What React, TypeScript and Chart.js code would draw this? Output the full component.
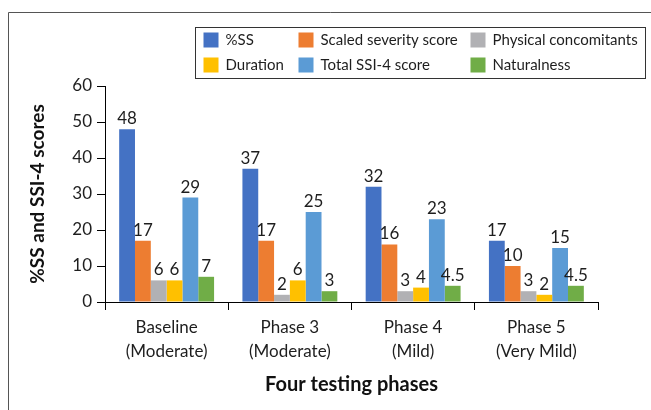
import React, { useEffect, useRef } from "react";
import { Chart, registerables } from "chart.js";

Chart.register(...registerables);

const categories: string[][] = [
  ["Baseline", "(Moderate)"],
  ["Phase 3", "(Moderate)"],
  ["Phase 4", "(Mild)"],
  ["Phase 5", "(Very Mild)"],
];
const seriesNames = [
  "%SS",
  "Scaled severity score",
  "Physical concomitants",
  "Duration",
  "Total SSI-4 score",
  "Naturalness",
];
const pctSS = [48, 37, 32, 17];
const scaledSeverity = [17, 17, 16, 10];
const physical = [6, 2, 3, 3];
const duration = [6, 6, 4, 2];
const totalSSI4 = [29, 25, 23, 15];
const naturalness = [7, 3, 4.5, 4.5];
const yTicks = [0, 10, 20, 30, 40, 50, 60];

const colors = ["#4472C4", "#ED7D31", "#B1B1B4", "#FFC000", "#5B9BD5", "#70AD47"];
const FONT = "Lato, 'Open Sans', sans-serif";
const TEXT = "#1e1e1e";

const frameAndLegend = {
  id: "frameAndLegend",
  beforeDraw(chart: any) {
    const ctx = chart.ctx;
    ctx.save();
    ctx.fillStyle = "#fff";
    ctx.fillRect(0, 0, chart.width, chart.height);
    ctx.strokeStyle = "#555";
    ctx.lineWidth = 1;
    ctx.beginPath();
    ctx.moveTo(8.5, chart.height + 2);
    ctx.lineTo(8.5, 12.5);
    ctx.lineTo(chart.width + 2, 12.5);
    ctx.stroke();
    ctx.restore();
  },
  afterDraw(chart: any) {
    const ctx = chart.ctx;
    const box = { x: 195.5, y: 27.5, w: 450, h: 51 };
    const cols = [8, 103, 275];
    const rows = [12, 37];
    ctx.save();
    ctx.strokeStyle = "#333";
    ctx.lineWidth = 1;
    ctx.strokeRect(box.x, box.y, box.w, box.h);
    ctx.font = `15px ${FONT}`;
    ctx.textBaseline = "middle";
    chart.data.datasets.forEach((ds: any, i: number) => {
      const cx = box.x + cols[i % 3];
      const cy = box.y + rows[Math.floor(i / 3)];
      ctx.fillStyle = ds.backgroundColor;
      ctx.fillRect(cx, cy - 7, 15, 15);
      ctx.fillStyle = TEXT;
      ctx.fillText(ds.label, cx + 22, cy + 1);
    });
    ctx.restore();
  },
};

const valueLabels = {
  id: "valueLabels",
  afterDatasetsDraw(chart: any) {
    const ctx = chart.ctx;
    ctx.save();
    ctx.font = `17px ${FONT}`;
    ctx.fillStyle = TEXT;
    ctx.textAlign = "center";
    ctx.textBaseline = "bottom";
    chart.data.datasets.forEach((ds: any, i: number) => {
      const meta = chart.getDatasetMeta(i);
      meta.data.forEach((bar: any, j: number) => {
        ctx.fillText(String(ds.data[j]), bar.x, bar.y - 2);
      });
    });
    ctx.restore();
  },
};

export default function App() {
  const ref = useRef<HTMLCanvasElement>(null);
  useEffect(() => {
    if (!ref.current) return;
    const series = [pctSS, scaledSeverity, physical, duration, totalSSI4, naturalness];
    const chart = new Chart(ref.current, {
      type: "bar",
      data: {
        labels: categories,
        datasets: series.map((d, i) => ({
          label: seriesNames[i],
          data: d,
          backgroundColor: colors[i],
          borderWidth: 0,
          categoryPercentage: 0.77,
          barPercentage: 1,
        })),
      },
      options: {
        animation: false,
        responsive: false,
        maintainAspectRatio: false,
        layout: { padding: { left: 26, top: 86, right: 53, bottom: 13 } },
        plugins: { legend: { display: false }, tooltip: { enabled: false } },
        scales: {
          x: {
            grid: { display: true, drawOnChartArea: false, color: "#000", tickLength: 8, offset: true },
            border: { color: "#000", width: 1 },
            ticks: { color: TEXT, font: { family: FONT, size: 17, lineHeight: 1.42 }, padding: 5, maxRotation: 0 },
            title: { display: true, text: "Four testing phases", color: "#111", font: { family: FONT, size: 20, weight: "bold" }, padding: { top: 0, bottom: 0 } },
            afterFit: (s: any) => { s.height = 95; },
          },
          y: {
            min: 0,
            max: 60,
            afterBuildTicks: (s: any) => { s.ticks = yTicks.map((v) => ({ value: v })); },
            grid: { display: true, drawOnChartArea: false, color: "#000", tickLength: 8, tickWidth: 1 },
            border: { color: "#000", width: 1 },
            ticks: { color: TEXT, font: { family: FONT, size: 17 }, padding: 5 },
            title: { display: true, text: "%SS and SSI-4 scores", color: "#111", font: { family: FONT, size: 19, weight: "bold" }, padding: { top: 0, bottom: 0 } },
            afterFit: (s: any) => { s.width = 79; },
          },
        },
      },
      plugins: [frameAndLegend, valueLabels],
    });
    return () => chart.destroy();
  }, []);
  return (
    <div style={{ position: "fixed", left: 0, top: 0, width: 651, height: 410 }}>
      <canvas ref={ref} width={651} height={410} style={{ width: 651, height: 410, display: "block" }} />
    </div>
  );
}
